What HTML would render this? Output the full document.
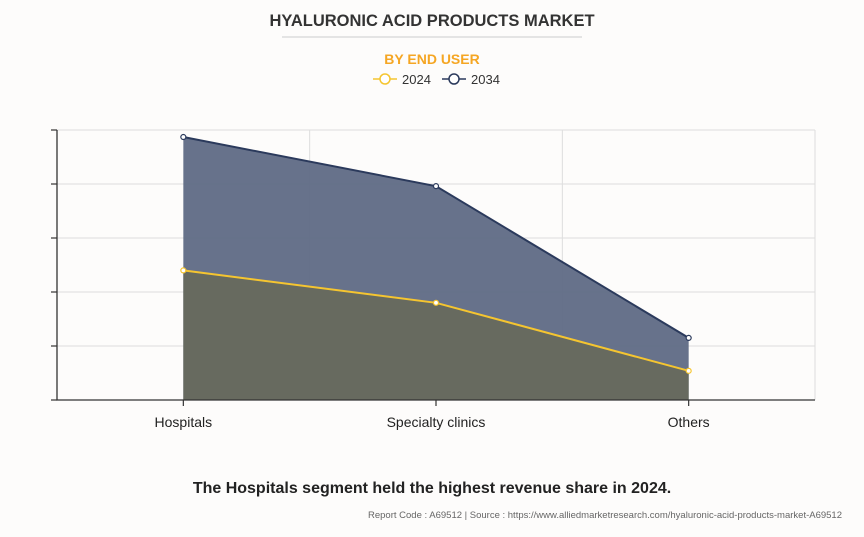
<!DOCTYPE html>
<html><head><meta charset="utf-8"><style>
body{margin:0;background:#fdfcfb;font-family:"Liberation Sans",sans-serif;}
</style></head><body>
<svg id="chart" width="864" height="537" xmlns="http://www.w3.org/2000/svg" style="display:block">
<rect width="864" height="537" fill="#fdfcfb"/>
<text x="432" y="26" text-anchor="middle" font-size="16.5" font-weight="bold" fill="#333" font-family="Liberation Sans, sans-serif">HYALURONIC ACID PRODUCTS MARKET</text>
<line x1="282" y1="37" x2="582" y2="37" stroke="#ccc" stroke-width="1"/>
<text x="432" y="64" text-anchor="middle" font-size="14" font-weight="bold" fill="#f5a623">BY END USER</text>
<g>
<line x1="373" y1="79" x2="397" y2="79" stroke="#f5c530" stroke-width="1.5"/>
<circle cx="385" cy="79" r="5" fill="#fff" stroke="#f5c530" stroke-width="1.5"/>
<text x="402" y="84" font-size="13" fill="#333">2024</text></g>
<g>
<line x1="442" y1="79" x2="466" y2="79" stroke="#2b3a5c" stroke-width="1.5"/>
<circle cx="454" cy="79" r="5" fill="#fff" stroke="#2b3a5c" stroke-width="1.5"/>
<text x="471" y="84" font-size="13" fill="#333">2034</text></g>
<g id="grid"></g>
<g id="series"></g>
<g id="axes"></g>
<text x="432" y="493" text-anchor="middle" font-size="16" font-weight="bold" fill="#222">The Hospitals segment held the highest revenue share in 2024.</text>
<text x="842" y="518" text-anchor="end" font-size="9.5" fill="#666">Report Code : A69512  |  Source : https://www.alliedmarketresearch.com/hyaluronic-acid-products-market-A69512</text>
</svg>
<script>
const categories=["Hospitals","Specialty clinics","Others"];
const values2024=[2.4,1.8,0.54];
const values2034=[4.87,3.96,1.15];
const yTicks=[0,1,2,3,4,5];
const L=57,R=815,T=130,B=400,ymax=5;
const NS="http://www.w3.org/2000/svg";
const bw=(R-L)/categories.length;
function x(i){return L+bw*(i+0.5);}
function y(v){return B-(v/ymax)*(B-T);}
function mk(tag,attrs,parent){const e=document.createElementNS(NS,tag);for(const k in attrs)e.setAttribute(k,attrs[k]);document.getElementById(parent).appendChild(e);return e;}
yTicks.forEach(t=>{
 const g=mk('line',{x1:L,x2:R,y1:y(t),y2:y(t),stroke:'#ddd','stroke-width':1},'grid');
 
 
 const tk=mk('line',{x1:L-6,x2:L,y1:y(t),y2:y(t),stroke:'#333','stroke-width':1.2},'axes');
 
 
});
for(let i=1;i<=categories.length;i++){
 const v=mk('line',{x1:L+bw*i,x2:L+bw*i,y1:T,y2:B,stroke:'#ddd','stroke-width':1},'grid');
 
 
}
function area(vals,fill,stroke,name){
 let d='M'+x(0)+','+B;
 vals.forEach((v,i)=>d+=' L'+x(i)+','+y(v));
 d+=' L'+x(vals.length-1)+','+B+' Z';
 const a=mk('path',{d:d,fill:fill,opacity:0.95},'series');
 
 
 const pts=vals.map((v,i)=>x(i)+','+y(v)).join(' ');
 const l=mk('polyline',{points:pts,fill:'none',stroke:stroke,'stroke-width':2},'series');
 
 
 return ()=>vals.forEach((v,i)=>{
  const c=mk('circle',{cx:x(i),cy:y(v),r:2.5,fill:'#fff',stroke:stroke,'stroke-width':1.2},'series');
  
  
 });
}
const p34=area(values2034,'#5f6a85','#2b3a5c','series-2034');
const p24=area(values2024,'#67695d','#f5c530','series-2024');
p34();p24();
const ax=mk('path',{d:'M'+L+','+T+' L'+L+','+B+' L'+R+','+B,fill:'none',stroke:'#333','stroke-width':1.3},'axes');


categories.forEach((c,i)=>{
 const tk=mk('line',{x1:x(i),x2:x(i),y1:B,y2:B+6,stroke:'#333','stroke-width':1.2},'axes');
 
 
 const t=mk('text',{x:x(i),y:B+27,'text-anchor':'middle','font-size':14,fill:'#222'},'axes');
 t.textContent=c;
 
 
});
</script>
</body></html>
